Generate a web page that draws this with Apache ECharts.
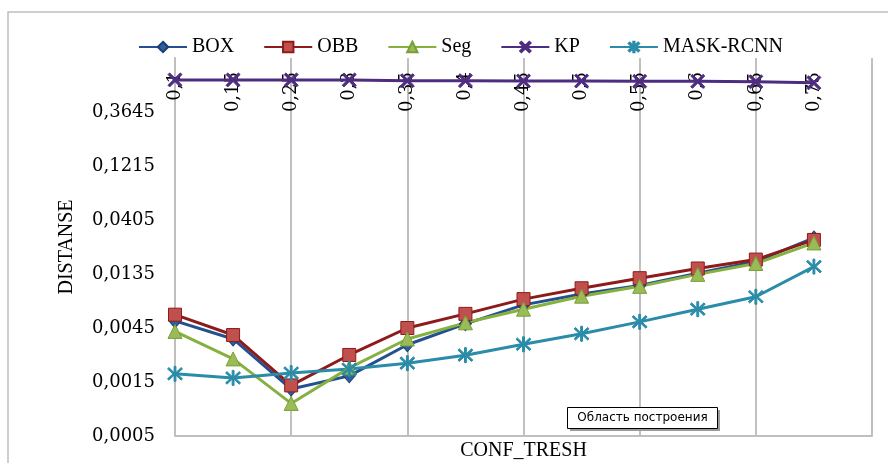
<!DOCTYPE html>
<html>
<head>
<meta charset="utf-8">
<script src="https://cdn.jsdelivr.net/npm/echarts@6/dist/echarts.min.js"></script>
<style>html,body{margin:0;padding:0;background:#fff}#c{width:888px;height:463px}</style>
</head>
<body>
<div id="c"></div>
<script>
const categories = ['0,1','0,15','0,25','0,3','0,35','0,4','0,45','0,5','0,55','0,6','0,65','0,75'];
const boxValues  = [0.0052, 0.0036, 0.0013, 0.0017, 0.0032, 0.0049, 0.0072, 0.0090, 0.0107, 0.0137, 0.0174, 0.0281];
const obbValues  = [0.0059, 0.0039, 0.0014, 0.0026, 0.0045, 0.0060, 0.0081, 0.0101, 0.0124, 0.0151, 0.0181, 0.0270];
const segValues  = [0.0042, 0.0024, 0.00097, 0.0020, 0.0036, 0.0050, 0.0066, 0.0086, 0.0105, 0.0134, 0.0167, 0.0254];
const kpValues   = [0.70, 0.70, 0.70, 0.70, 0.69, 0.69, 0.685, 0.685, 0.68, 0.68, 0.675, 0.66];
const maskValues = [0.00177, 0.00163, 0.0018, 0.00195, 0.0022, 0.00259, 0.00323, 0.0040, 0.0051, 0.0066, 0.0085, 0.0157];
const yTickLabels = ['0,0005','0,0015','0,0045','0,0135','0,0405','0,1215','0,3645',''];
const logMin = 0.0005, logBase = 3;

const toK = v => Math.log(v / logMin) / Math.log(logBase);
const conv = arr => arr.map(toK);

const X_PATH = 'path://M0,1.2 L1.2,0 L5,3.8 L8.8,0 L10,1.2 L6.2,5 L10,8.8 L8.8,10 L5,6.2 L1.2,10 L0,8.8 L3.8,5 Z';
const STAR_PATH = 'path://M4.4,0 L5.6,0 L5.6,4.1 L8.9,0.8 L9.8,1.7 L6.3,5 L9.8,8.3 L8.9,9.2 L5.6,5.9 L5.6,10 L4.4,10 L4.4,5.9 L1.1,9.2 L0.2,8.3 L3.7,5 L0.2,1.7 L1.1,0.8 L4.4,4.1 Z';

function mk(name, data, lineColor, markColor, borderColor, symbol, size) {
  return {
    name, type: 'line', data: conv(data),
    symbol, symbolSize: size, showSymbol: true,
    lineStyle: { color: lineColor, width: 3 },
    itemStyle: { color: markColor, borderColor: borderColor, borderWidth: 1 },
    emphasis: { disabled: true },
    animation: false
  };
}

const chart = echarts.init(document.getElementById('c'));
const serif = 'Liberation Serif';
const tickFont = 'DejaVu Serif';
chart.setOption({
  animation: false,
  graphic: [
    { type: 'rect', shape: { x: 8, y: 12, width: 1000, height: 600 }, style: { fill: 'none', stroke: '#BFBFBF', lineWidth: 1.5 }, z: 0 },
    { type: 'rect', shape: { x: 570, y: 410, width: 150, height: 21 }, style: { fill: '#9a9a9a' }, z: 100 },
    { type: 'rect', shape: { x: 567.5, y: 407.5, width: 150, height: 21 }, style: { fill: '#ffffff', stroke: '#000000', lineWidth: 1 }, z: 101 },
    { type: 'text', x: 642.5, y: 418, style: { text: 'Область построения', font: '12px "DejaVu Sans"', fill: '#000', align: 'center', verticalAlign: 'middle' }, z: 102 }
  ],
  legend: {
    left: 133, top: 32,
    itemWidth: 48, itemHeight: 13, itemGap: 29,
    textStyle: { fontFamily: serif, fontSize: 20, color: '#000', padding: [0, 0, 0, 0] },
    data: ['BOX', 'OBB', 'Seg', 'KP', 'MASK-RCNN']
  },
  grid: { left: 175, right: 16, top: 58, bottom: 27, containLabel: false, outerBoundsMode: 'none' },
  xAxis: [{
    type: 'category', position: 'top', data: categories, boundaryGap: false, max: 12,
    axisLine: { show: true, lineStyle: { color: '#BFBFBF', width: 2 } },
    axisTick: { show: false },
    axisLabel: {
      inside: true, rotate: 90, margin: 14, interval: 0,
      fontFamily: tickFont, fontSize: 18, color: '#000',
      formatter: v => (v == null || v === 'undefined') ? '' : v
    },
    splitLine: { show: true, interval: 1, lineStyle: { color: '#C0C0C0', width: 2 } }
  }, {
    type: 'category', position: 'bottom', data: categories, boundaryGap: false, max: 12,
    name: 'CONF_TRESH', nameLocation: 'middle', nameGap: 5,
    nameTextStyle: { fontFamily: serif, fontSize: 20, color: '#000' },
    axisLine: { show: false }, axisTick: { show: false }, axisLabel: { show: false }, splitLine: { show: false }
  }],
  yAxis: {
    type: 'value', min: 0, max: 7, interval: 1,
    name: 'DISTANSE', nameLocation: 'middle', nameGap: 98, nameRotate: 90,
    nameTextStyle: { fontFamily: serif, fontSize: 20, color: '#000' },
    axisLine: { show: true, lineStyle: { color: '#BFBFBF', width: 2 } },
    axisTick: { show: false },
    splitLine: { show: false },
    axisLabel: {
      margin: 20, fontFamily: tickFont, fontSize: 18, color: '#000',
      formatter: (v) => yTickLabels[Math.round(v)] || ''
    }
  },
  series: [
    mk('BOX', boxValues, '#23508F', '#2F5F9E', '#1B3F73', 'diamond', [12, 14]),
    mk('OBB', obbValues, '#8E1B1B', '#C0504D', '#8E1B1B', 'rect', 13),
    mk('Seg', segValues, '#86B140', '#9BBB59', '#76A033', 'triangle', 14),
    mk('KP', kpValues, '#4E2C80', '#4E2C80', '#4E2C80', X_PATH, 14),
    mk('MASK-RCNN', maskValues, '#2A8CA8', '#2A8CA8', '#2A8CA8', STAR_PATH, 15)
  ]
});
</script>
</body>
</html>
